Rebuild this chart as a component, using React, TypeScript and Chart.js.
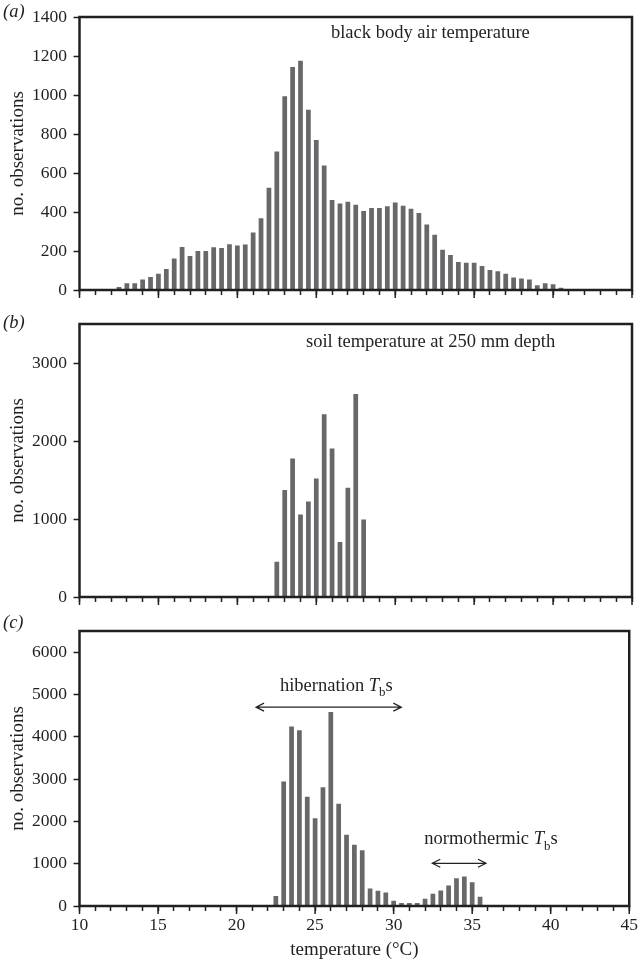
import React, { useEffect, useRef } from "react";
import { Chart, registerables } from "chart.js";

Chart.register(...registerables);

// ---------- data ----------
const airTemps = [
  12.5, 13, 13.5, 14, 14.5, 15, 15.5, 16, 16.5, 17, 17.5, 18, 18.5, 19, 19.5, 20,
  20.5, 21, 21.5, 22, 22.5, 23, 23.5, 24, 24.5, 25, 25.5, 26, 26.5, 27, 27.5, 28,
  28.5, 29, 29.5, 30, 30.5, 31, 31.5, 32, 32.5, 33, 33.5, 34, 34.5, 35, 35.5, 36,
  36.5, 37, 37.5, 38, 38.5, 39, 39.5, 40, 40.5,
];
const airCounts = [
  15, 34, 34, 54, 67, 83, 108, 162, 221, 175, 200, 200, 219, 216, 234, 228,
  233, 295, 368, 525, 710, 994, 1144, 1176, 924, 769, 639, 462, 444, 452, 437, 405,
  420, 420, 430, 449, 432, 417, 395, 336, 283, 206, 179, 143, 140, 140, 123, 103,
  96, 83, 64, 59, 54, 25, 35, 30, 12,
];
const airYTicks = [0, 200, 400, 600, 800, 1000, 1200, 1400];

const soilTemps = [22.5, 23, 23.5, 24, 24.5, 25, 25.5, 26, 26.5, 27, 27.5, 28];
const soilCounts = [451, 1371, 1776, 1059, 1224, 1519, 2342, 1903, 705, 1401, 2603, 992];
const soilYTicks = [0, 1000, 2000, 3000];

const tbTemps = [
  22.5, 23, 23.5, 24, 24.5, 25, 25.5, 26, 26.5, 27, 27.5, 28, 28.5, 29, 29.5, 30,
  30.5, 31, 31.5, 32, 32.5, 33, 33.5, 34, 34.5, 35, 35.5,
];
const tbCounts = [
  235, 2942, 4241, 4155, 2582, 2074, 2809, 4585, 2418, 1682, 1448, 1315, 415, 360, 321, 125,
  70, 70, 70, 172, 290, 368, 485, 657, 696, 563, 219,
];
const tbYTicks = [0, 1000, 2000, 3000, 4000, 5000, 6000];

const xMin = 10;
const xMax = 45;
const xLabelTicks = [10, 15, 20, 25, 30, 35, 40, 45];
const xTitle = "temperature (°C)";
const yTitle = "no. observations";

// ---------- styles ----------
const SERIF = '"Liberation Serif", "DejaVu Serif", "Times New Roman", serif';
const INK = "#231f20";
const BAR = "#68686a";
const TICK_FONT = 17.5;
const TEXT_FONT = 18.5;
const TITLE_FONT = 19;

type Seg = { t: string; italic?: boolean; sub?: boolean };
type Note = { x: number; y: number; segs: Seg[] };
type Arrow = { x1: number; x2: number; y: number };

function drawRich(ctx: CanvasRenderingContext2D, segs: Seg[], x: number, y: number) {
  let cx = x;
  ctx.textAlign = "left";
  ctx.textBaseline = "alphabetic";
  for (const s of segs) {
    const fs = s.sub ? TEXT_FONT * 0.7 : TEXT_FONT;
    ctx.font = `${s.italic ? "italic " : ""}${fs}px ${SERIF}`;
    ctx.fillText(s.t, cx, s.sub ? y + TEXT_FONT * 0.28 : y);
    cx += ctx.measureText(s.t).width;
  }
}

function drawArrow(ctx: CanvasRenderingContext2D, x1: number, x2: number, y: number) {
  ctx.lineWidth = 1.2;
  ctx.beginPath();
  ctx.moveTo(x1, y);
  ctx.lineTo(x2, y);
  ctx.moveTo(x1 + 8, y - 4);
  ctx.lineTo(x1, y);
  ctx.lineTo(x1 + 8, y + 4);
  ctx.moveTo(x2 - 8, y - 4);
  ctx.lineTo(x2, y);
  ctx.lineTo(x2 - 8, y + 4);
  ctx.stroke();
}

const framePlugin = {
  id: "frame",
  afterDraw(chart: any) {
    const { ctx, chartArea: a, scales } = chart;
    const o = chart.options.plugins.frame;
    const xs = scales.x;
    const ys = scales.y;
    ctx.save();
    ctx.strokeStyle = INK;
    ctx.fillStyle = INK;
    // longer major ticks every 5 degrees
    ctx.lineWidth = 1.5;
    for (const v of xLabelTicks) {
      const px = xs.getPixelForValue(v);
      ctx.beginPath();
      ctx.moveTo(px, a.bottom);
      ctx.lineTo(px, a.bottom + 8);
      ctx.stroke();
    }
    // frame
    ctx.lineWidth = 2.5;
    ctx.strokeRect(a.left, a.top, a.right - a.left, a.bottom - a.top);
    // panel letter
    ctx.font = `italic ${TEXT_FONT}px ${SERIF}`;
    ctx.textAlign = "left";
    ctx.textBaseline = "alphabetic";
    ctx.fillText(o.letter, 3, a.top + o.letterDy);
    // annotations
    for (const n of o.notes as Note[]) {
      drawRich(ctx, n.segs, xs.getPixelForValue(n.x), ys.getPixelForValue(n.y));
    }
    for (const ar of o.arrows as Arrow[]) {
      drawArrow(ctx, xs.getPixelForValue(ar.x1), xs.getPixelForValue(ar.x2), ys.getPixelForValue(ar.y));
    }
    ctx.restore();
  },
};

type PanelProps = {
  top: number;
  height: number;
  xHeight: number;
  temps: number[];
  counts: number[];
  yMax: number;
  yTicks: number[];
  showX: boolean;
  letter: string;
  letterDy: number;
  notes: Note[];
  arrows: Arrow[];
};

function Panel(p: PanelProps) {
  const ref = useRef<HTMLCanvasElement | null>(null);
  useEffect(() => {
    if (!ref.current) return;
    const font = (size: number) => ({ family: SERIF, size });
    const chart = new Chart(ref.current, {
      type: "bar",
      data: {
        datasets: [
          {
            data: p.temps.map((t, i) => ({ x: t, y: p.counts[i] })),
            backgroundColor: BAR,
            borderWidth: 0,
            barPercentage: 0.6,
            categoryPercentage: 1,
          },
        ],
      },
      options: {
        animation: false,
        responsive: false,
        maintainAspectRatio: false,
        layout: { padding: { top: 15, right: 10, bottom: 0, left: 0 } },
        plugins: {
          legend: { display: false },
          tooltip: { enabled: false },
          frame: { letter: p.letter, letterDy: p.letterDy, notes: p.notes, arrows: p.arrows },
        } as any,
        scales: {
          x: {
            type: "linear",
            min: xMin,
            max: xMax,
            offset: false,
            grid: {
              display: true,
              offset: false,
              drawOnChartArea: false,
              drawTicks: true,
              tickLength: 5,
              tickWidth: 1.5,
              tickColor: INK,
              color: INK,
            },
            border: { display: false },
            ticks: {
              display: p.showX,
              stepSize: 1,
              maxTicksLimit: 100,
              autoSkip: false,
              maxRotation: 0,
              padding: 4,
              color: INK,
              font: font(TICK_FONT),
              callback: (v: any) => (xLabelTicks.includes(Number(v)) ? String(v) : ""),
            },
            title: {
              display: p.showX,
              text: xTitle,
              color: INK,
              font: font(TITLE_FONT),
              padding: { top: 0, bottom: 1 },
            },
            afterFit: (s: any) => {
              s.height = p.xHeight;
            },
          },
          y: {
            type: "linear",
            min: 0,
            max: p.yMax,
            grid: {
              display: true,
              drawOnChartArea: false,
              drawTicks: true,
              tickLength: 6,
              tickWidth: 1.5,
              tickColor: INK,
              color: INK,
            },
            border: { display: false },
            ticks: {
              padding: 6.5,
              color: INK,
              font: font(TICK_FONT),
              callback: (v: any) => String(v),
            },
            afterBuildTicks: (s: any) => {
              s.ticks = p.yTicks.map((v) => ({ value: v }));
            },
            title: {
              display: true,
              text: yTitle,
              color: INK,
              font: font(TITLE_FONT),
              padding: { top: 7, bottom: 0 },
            },
            afterFit: (s: any) => {
              s.width = 79.5;
            },
          },
        } as any,
      },
      plugins: [framePlugin as any],
    });
    return () => chart.destroy();
  }, []);
  return (
    <canvas
      ref={ref}
      width={642}
      height={p.height}
      style={{ position: "absolute", left: 0, top: p.top, display: "block" }}
    />
  );
}

export default function App() {
  return (
    <div
      style={{
        position: "absolute",
        left: 0,
        top: 0,
        width: 642,
        height: 962,
        background: "#ffffff",
        overflow: "hidden",
      }}
    >
      <Panel
        top={0}
        height={307}
        xHeight={15}
        temps={airTemps}
        counts={airCounts}
        yMax={1400}
        yTicks={airYTicks}
        showX={false}
        letter="(a)"
        letterDy={0}
        notes={[{ x: 25.93, y: 1291, segs: [{ t: "black body air temperature" }] }]}
        arrows={[]}
      />
      <Panel
        top={307}
        height={307}
        xHeight={15}
        temps={soilTemps}
        counts={soilCounts}
        yMax={3500}
        yTicks={soilYTicks}
        showX={false}
        letter="(b)"
        letterDy={4}
        notes={[{ x: 24.35, y: 3203, segs: [{ t: "soil temperature at 250 mm depth" }] }]}
        arrows={[]}
      />
      <Panel
        top={614}
        height={348}
        xHeight={56}
        temps={tbTemps}
        counts={tbCounts}
        yMax={6500}
        yTicks={tbYTicks}
        showX={true}
        letter="(c)"
        letterDy={-3}
        notes={[
          {
            x: 22.76,
            y: 5092,
            segs: [{ t: "hibernation " }, { t: "T", italic: true }, { t: "b", sub: true }, { t: "s" }],
          },
          {
            x: 31.95,
            y: 1455,
            segs: [{ t: "normothermic " }, { t: "T", italic: true }, { t: "b", sub: true }, { t: "s" }],
          },
        ]}
        arrows={[
          { x1: 21.24, x2: 30.49, y: 4700 },
          { x1: 32.46, x2: 35.88, y: 1009 },
        ]}
      />
    </div>
  );
}
